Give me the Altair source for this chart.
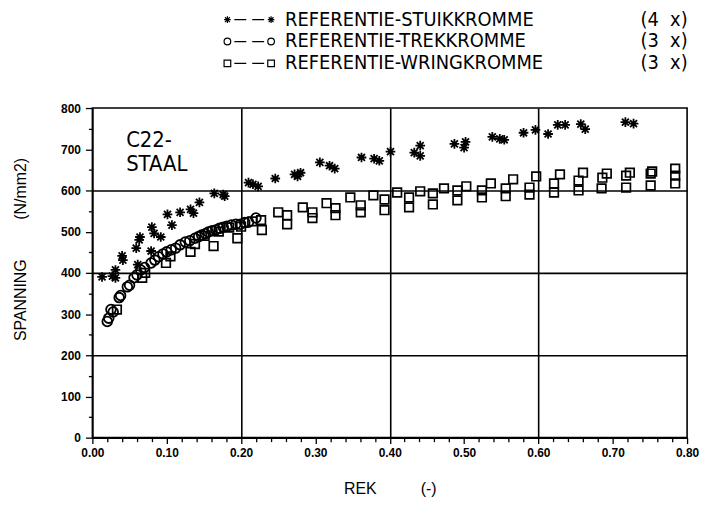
import altair as alt
import pandas as pd

# ---- data ----
stuik_rek = [0.013, 0.027, 0.031, 0.031, 0.040, 0.041, 0.059, 0.061, 0.063, 0.064, 0.079, 0.080,
             0.083, 0.092, 0.101, 0.107, 0.118, 0.132, 0.136, 0.144, 0.164, 0.176, 0.178, 0.210,
             0.216, 0.223, 0.246, 0.272, 0.276, 0.280, 0.306, 0.319, 0.326, 0.362, 0.379, 0.386,
             0.401, 0.433, 0.441, 0.441, 0.487, 0.500, 0.502, 0.538, 0.548, 0.554, 0.580, 0.596,
             0.613, 0.626, 0.636, 0.657, 0.663, 0.717, 0.728]
stuik_span = [390, 392, 407, 388, 441, 431, 460, 420, 480, 487, 453, 511,
              496, 487, 542, 516, 547, 554, 545, 571, 593, 590, 586, 619,
              615, 610, 629, 639, 634, 643, 668, 660, 653, 680, 677, 672,
              694, 692, 709, 684, 713, 704, 718, 730, 725, 723, 740, 747,
              737, 759, 759, 761, 749, 766, 762]

trek_rek = [0.020, 0.022, 0.025, 0.028, 0.036, 0.038, 0.047, 0.050, 0.056, 0.060, 0.065, 0.070,
            0.079, 0.084, 0.089, 0.095, 0.100, 0.106, 0.112, 0.118, 0.125, 0.131, 0.138, 0.143,
            0.147, 0.152, 0.156, 0.161, 0.166, 0.171, 0.176, 0.181, 0.187, 0.193, 0.199, 0.205,
            0.210, 0.220]
trek_span = [282, 290, 311, 305, 340, 345, 366, 370, 388, 395, 407, 413,
             424, 431, 439, 446, 451, 456, 460, 468, 475, 478, 484, 488,
             492, 495, 499, 502, 504, 508, 511, 513, 516, 518, 518, 522,
             523, 533]

wring_rek = [0.033, 0.067, 0.071, 0.099, 0.105, 0.132, 0.138, 0.151, 0.163, 0.170, 0.184, 0.195,
             0.200, 0.215, 0.227, 0.228, 0.250, 0.262, 0.262, 0.283, 0.296, 0.296, 0.315, 0.327,
             0.327, 0.347, 0.361, 0.361, 0.378, 0.393, 0.393, 0.410, 0.426, 0.426, 0.441, 0.458,
             0.458, 0.473, 0.491, 0.491, 0.503, 0.524, 0.524, 0.536, 0.556, 0.556, 0.566, 0.588,
             0.588, 0.597, 0.621, 0.621, 0.629, 0.654, 0.654, 0.660, 0.686, 0.685, 0.692, 0.718,
             0.718, 0.723, 0.751, 0.751, 0.753, 0.784, 0.784, 0.784]
wring_span = [311, 388, 400, 424, 440, 451, 470, 490, 465, 500, 510, 484,
              512, 525, 528, 504, 547, 540, 518, 559, 547, 533, 569, 557,
              540, 583, 564, 547, 588, 578, 552, 595, 583, 559, 598, 593,
              566, 605, 600, 576, 610, 600, 583, 617, 605, 586, 627, 607,
              590, 634, 617, 595, 639, 624, 600, 643, 631, 605, 641, 636,
              607, 643, 641, 612, 646, 653, 636, 617]

series_names = ["STUIK", "TREK", "WRING"]
legend_labels = ["REFERENTIE-STUIKKROMME", "REFERENTIE-TREKKROMME", "REFERENTIE-WRINGKROMME"]
legend_counts = ["(4\u00a0\u00a0x)", "(3\u00a0\u00a0x)", "(3\u00a0\u00a0x)"]
annotation = "C22-\nSTAAL"

x_ticks = [round(i * 0.02, 2) for i in range(41)]
y_ticks = list(range(0, 801, 50))

x_title = "REK" + "\u00a0" * 10 + "(-)"
y_title = "SPANNING" + "\u00a0" * 9 + "(N/mm2)"

NARROW = "Liberation Sans Narrow, DejaVu Sans Condensed, Liberation Sans, sans-serif"
ASTERISK = "M-1,0H1M0,-1V1M-0.72,-0.72L0.72,0.72M-0.72,0.72L0.72,-0.72"
styles = {"STUIK": (ASTERISK, 95, 1.8), "TREK": ("circle", 95, 1.8), "WRING": ("square", 75, 1.7)}

# ---- table ----
frames = []
for name, xs, ys in [("STUIK", stuik_rek, stuik_span),
                     ("TREK", trek_rek, trek_span),
                     ("WRING", wring_rek, wring_span)]:
    frames.append(pd.DataFrame({"serie": name, "rek": xs, "spanning": ys}))
data = pd.concat(frames, ignore_index=True)

x_scale = alt.Scale(domain=[0, 0.8], nice=False, zero=False)
y_scale = alt.Scale(domain=[0, 800], nice=False, zero=False)

x_axis = alt.Axis(
    values=x_ticks, title=x_title,
    labelExpr="round(datum.value*50) % 5 == 0 ? format(datum.value, '.2f') : ''",
    tickSize={"condition": {"test": "round(datum.value*50) % 5 == 0", "value": 6}, "value": 4},
    grid=True,
    gridOpacity={"condition": {"test": "round(datum.value*50) % 10 == 0 && datum.value > 0.01 && datum.value < 0.79", "value": 1}, "value": 0},
    gridColor="black", gridWidth=1.6,
    domainColor="black", domainWidth=1.6, tickColor="black", tickWidth=1.3,
    labelFont="Liberation Sans", labelFontSize=12, labelFontWeight="bold", labelColor="black",
    labelPadding=4, labelFlush=False, labelOverlap=False,
    titleFont="Liberation Sans", titleFontSize=16, titleFontWeight="normal", titleColor="black",
    titleY=56, titleBaseline="alphabetic",
)
y_axis = alt.Axis(
    values=y_ticks, title=y_title,
    labelExpr="datum.value % 100 == 0 ? format(datum.value, 'd') : ''",
    tickSize={"condition": {"test": "datum.value % 100 == 0", "value": 7}, "value": 4},
    grid=True,
    gridOpacity={"condition": {"test": "datum.value % 200 == 0 && datum.value > 0 && datum.value < 800", "value": 1}, "value": 0},
    gridColor="black", gridWidth=1.6,
    domainColor="black", domainWidth=1.6, tickColor="black", tickWidth=1.3,
    labelFont="Liberation Sans", labelFontSize=12, labelFontWeight="bold", labelColor="black",
    labelPadding=5, labelFlush=False, labelOverlap=False,
    titleFont="Liberation Sans", titleFontSize=16, titleFontWeight="normal", titleColor="black",
    titleX=-64, titleY=142,
)

base = alt.Chart(data)
layers = []
for name in ["WRING", "TREK", "STUIK"]:
    shp, sz, sw = styles[name]
    layers.append(
        base.transform_filter(alt.datum.serie == name).mark_point(
            shape=shp, size=sz, filled=False, color="black", strokeWidth=sw, opacity=1
        ).encode(
            x=alt.X("rek:Q", scale=x_scale, axis=x_axis),
            y=alt.Y("spanning:Q", scale=y_scale, axis=y_axis),
        )
    )

# ---- legend on top (decoration, pixel positions relative to the plot area) ----
for i, name in enumerate(series_names):
    py = -89 + 22 * i
    shp = styles[name][0]
    row = alt.Chart(pd.DataFrame({"label": [legend_labels[i]], "count": [legend_counts[i]]}))
    for lx in [136, 180]:
        layers.append(row.mark_point(shape=shp, filled=False, color="black",
                                     strokeWidth=1.2, size=45, opacity=1)
                      .encode(x=alt.value(lx), y=alt.value(py)))
    layers.append(row.mark_rule(color="black", strokeWidth=1.3, strokeDash=[12, 6])
                  .encode(x=alt.value(143), x2=alt.value(173), y=alt.value(py)))
    layers.append(row.mark_text(align="left", baseline="middle", font=NARROW,
                                fontSize=20, color="black")
                  .encode(x=alt.value(194), y=alt.value(py), text="label:N"))
    layers.append(row.mark_text(align="left", baseline="middle", font=NARROW,
                                fontSize=20, color="black")
                  .encode(x=alt.value(552), y=alt.value(py), text="count:N"))

# ---- annotation ----
layers.append(
    alt.Chart(pd.DataFrame({"t": [annotation]})).mark_text(
        align="left", baseline="top", font=NARROW, fontSize=22, lineBreak="\n",
        lineHeight=24, color="black"
    ).encode(x=alt.value(34), y=alt.value(22), text="t:N")
)

chart = alt.layer(*layers).properties(
    width=599, height=332,
    background="white",
    autosize=alt.AutoSizeParams(type="none"),
    padding={"left": 85, "top": 99, "right": 12, "bottom": 58},
).configure_view(stroke="black", strokeWidth=1.6)

chart.save("out.html", embed_options={"renderer": "svg", "actions": False})
